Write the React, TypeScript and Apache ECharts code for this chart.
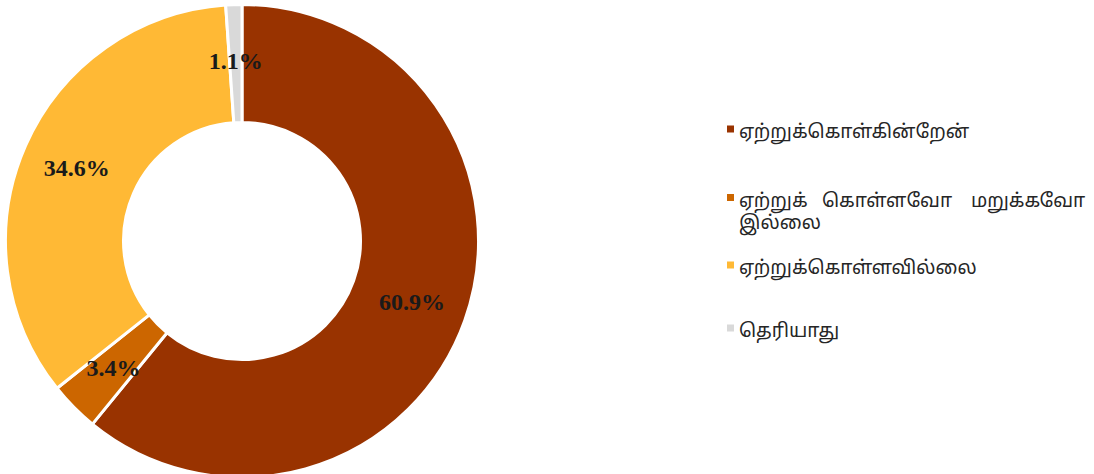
import React, { useEffect, useRef } from "react";
import * as echarts from "echarts";

const categories = [
  "ஏற்றுக்கொள்கின்றேன்",
  "ஏற்றுக் கொள்ளவோ மறுக்கவோ இல்லை",
  "ஏற்றுக்கொள்ளவில்லை",
  "தெரியாது",
];
const values = [60.9, 3.4, 34.6, 1.1];
const colors = ["#993300", "#CC6600", "#FFB935", "#D9D9D9"];

const LH = 22;
const iconCenters = [129, 197.5, 265, 328];

export default function App() {
  const ref = useRef<HTMLDivElement>(null);
  useEffect(() => {
    if (!ref.current) return;
    const chart = echarts.init(ref.current, undefined, { renderer: "svg" });
    const tamilFont = "'Noto Sans Tamil', 'Lohit Tamil', 'Noto Serif Tamil', sans-serif";
    const base = { fontFamily: tamilFont, fontSize: 19, color: "#262626", lineHeight: LH };
    const legends = categories.map((name, i) => {
      const multi = i === 1;
      const h = multi ? 2 * LH : LH;
      return {
        show: true,
        orient: "vertical" as const,
        left: 727,
        top: iconCenters[i] - 7,
        padding: 0,
        itemWidth: 7,
        itemHeight: h,
        itemGap: 0,
        icon: `path://M0,0h7 M0,3.5h7v7h-7z M0,${h}h7`,
        itemStyle: { borderWidth: 0 },
        data: [name],
        selectedMode: false,
        formatter: (n: string) =>
          n === categories[1]
            ? "{a|ஏற்றுக் }{b|கொள்ளவோ }{c|மறுக்கவோ}\n{d|இல்லை}"
            : n,
        textStyle: {
          ...base,
          rich: {
            a: { ...base, width: 83 },
            b: { ...base, width: 149 },
            c: { ...base },
            d: { ...base },
          },
        },
      };
    });
    chart.setOption({
      animation: false,
      backgroundColor: "#ffffff",
      legend: legends,
      series: [
        {
          type: "pie",
          center: [242, 241],
          radius: [118.5, 236.5],
          startAngle: 90,
          clockwise: true,
          avoidLabelOverlap: false,
          itemStyle: { borderColor: "#ffffff", borderWidth: 3 },
          label: {
            show: true,
            position: "inside",
            formatter: (p: any) => p.value.toFixed(1) + "%",
            fontFamily: "'Liberation Serif', 'Times New Roman', serif",
            fontWeight: "bold",
            fontSize: 24,
            color: "#1a1a1a",
          },
          labelLine: { show: false },
          emphasis: { disabled: true },
          data: categories.map((name, i) => ({
            name,
            value: values[i],
            itemStyle: { color: colors[i] },
          })),
        },
      ],
    });
    return () => chart.dispose();
  }, []);
  return (
    <div
      ref={ref}
      style={{ position: "fixed", left: 0, top: 0, width: 1094, height: 474 }}
    />
  );
}
